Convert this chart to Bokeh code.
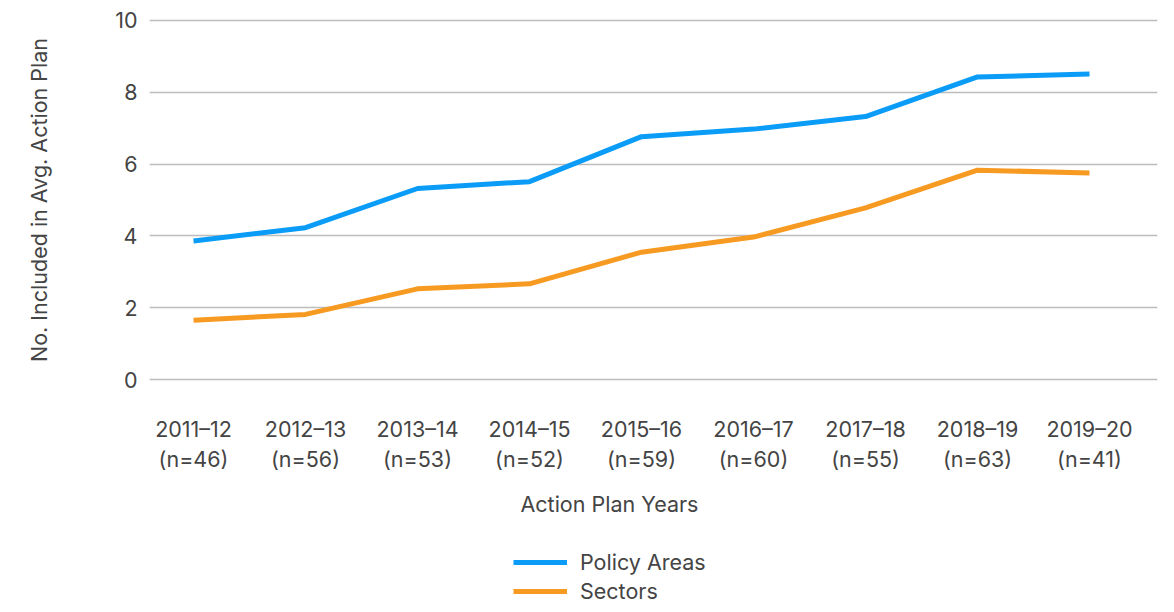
from bokeh.plotting import figure
from bokeh.layouts import column
from bokeh.models import Range1d, FixedTicker, Legend, LegendItem, Title
from bokeh.embed import file_html
from bokeh.resources import INLINE

years = ["2011–12", "2012–13", "2013–14", "2014–15", "2015–16",
         "2016–17", "2017–18", "2018–19", "2019–20"]
n_counts = [46, 56, 53, 52, 59, 60, 55, 63, 41]
policy_areas = [3.86, 4.23, 5.32, 5.51, 6.76, 6.97, 7.32, 8.42, 8.50]
sectors = [1.66, 1.82, 2.53, 2.67, 3.55, 3.97, 4.78, 5.83, 5.75]
y_ticks = [0, 2, 4, 6, 8, 10]

FONT = "Inter"
FS = "21.5px"
TXT = "#444444"
BLUE = "#0A9CF7"
ORANGE = "#F79A22"

xs = list(range(len(years)))

# ---- main chart ----
p = figure(width=1166, height=533, output_backend="svg", toolbar_location=None,
           x_range=Range1d(-0.393, 8.607), y_range=Range1d(-0.1, 10.1),
           min_border_left=149, min_border_right=9, min_border_top=16,
           min_border_bottom=150)
p.outline_line_color = None

p.line(xs, policy_areas, line_color=BLUE, line_width=5)
p.line(xs, sectors, line_color=ORANGE, line_width=5)

p.xaxis.ticker = FixedTicker(ticks=xs)
p.xaxis.major_label_overrides = {i: f"{y}\n(n={n})" for i, (y, n) in enumerate(zip(years, n_counts))}
p.yaxis.ticker = FixedTicker(ticks=y_ticks)
for ax in (p.xaxis[0], p.yaxis[0]):
    ax.axis_line_color = None
    ax.major_tick_line_color = None
    ax.minor_tick_line_color = None
    ax.major_tick_in = 0
    ax.major_tick_out = 0
    ax.major_label_text_font = FONT
    ax.major_label_text_font_size = FS
    ax.major_label_text_color = TXT
    ax.axis_label_text_font = FONT
    ax.axis_label_text_font_size = FS
    ax.axis_label_text_font_style = "normal"
    ax.axis_label_text_color = TXT

p.xaxis.major_label_standoff = 32
p.xaxis.major_label_text_line_height = 1.16
p.yaxis.major_label_standoff = 12
p.yaxis.axis_label = "No. Included in Avg. Action Plan"
p.yaxis.axis_label_standoff = 60

p.xgrid.grid_line_color = None
p.ygrid.grid_line_color = "#BDBDBD"
p.ygrid.grid_line_width = 1.5

p.add_layout(Title(text="Action Plan Years", align="left", offset=371, standoff=29,
                   text_font=FONT, text_font_size=FS, text_font_style="normal",
                   text_color=TXT), "below")

# ---- legend strip (series drawn outside its visible range, only the legend shows) ----
q = figure(width=1166, height=71, output_backend="svg", toolbar_location=None,
           x_range=Range1d(-0.393, 8.607), y_range=Range1d(100, 101),
           x_axis_type=None, y_axis_type=None,
           min_border_left=0, min_border_right=0, min_border_top=0, min_border_bottom=0)
q.outline_line_color = None
q.xgrid.visible = False
q.ygrid.visible = False
l1 = q.line(xs, policy_areas, line_color=BLUE, line_width=5)
l2 = q.line(xs, sectors, line_color=ORANGE, line_width=5)

legend = Legend(items=[LegendItem(label="Policy Areas", renderers=[l1]),
                       LegendItem(label="Sectors", renderers=[l2])],
                location=(364, 0), orientation="vertical",
                glyph_width=54, glyph_height=26, label_height=26, spacing=3,
                label_standoff=13, padding=0, margin=0,
                border_line_color=None, background_fill_alpha=0,
                label_text_font=FONT, label_text_font_size=FS, label_text_color=TXT)
q.add_layout(legend, "center")

layout = column(p, q, spacing=0)
open("out.html", "w").write(file_html(layout, INLINE))
